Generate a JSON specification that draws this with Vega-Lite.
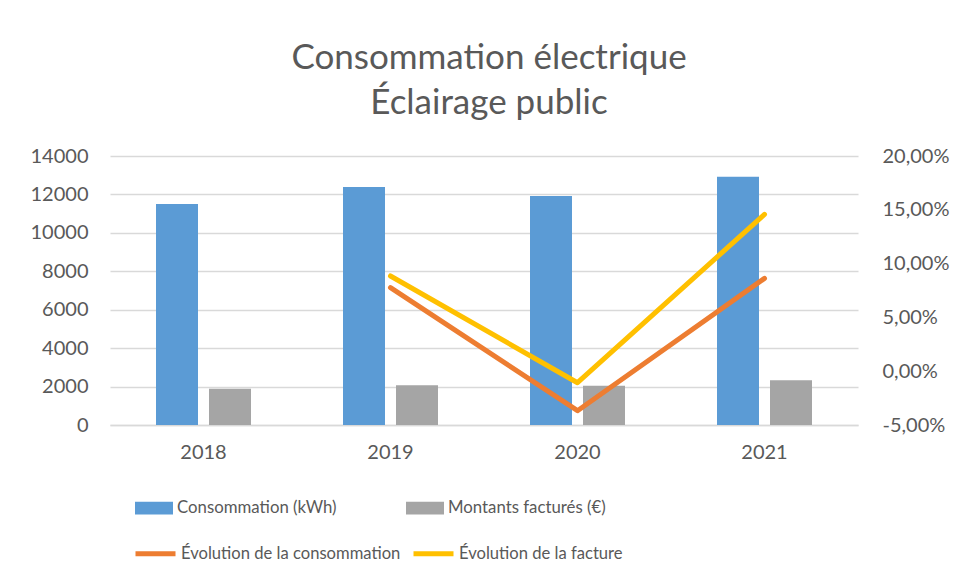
{
  "$schema": "https://vega.github.io/schema/vega-lite/v6.json",
  "width": 748,
  "height": 269,
  "autosize": {"type": "none"},
  "padding": {"left": 110, "top": 156, "right": 107, "bottom": 156},
  "background": "white",
  "title": {
    "text": ["Consommation électrique", "Éclairage public"],
    "anchor": "middle",
    "fontSize": 35,
    "font": "Lato",
    "fontWeight": "normal",
    "color": "#595959",
    "lineHeight": 45,
    "offset": 25,
    "dx": 5
  },
  "datasets": {
    "bars": [
      {"year": "2018", "serie": "Consommation (kWh)", "value": 11500},
      {"year": "2018", "serie": "Montants facturés (€)", "value": 1890},
      {"year": "2019", "serie": "Consommation (kWh)", "value": 12390},
      {"year": "2019", "serie": "Montants facturés (€)", "value": 2065},
      {"year": "2020", "serie": "Consommation (kWh)", "value": 11920},
      {"year": "2020", "serie": "Montants facturés (€)", "value": 2046},
      {"year": "2021", "serie": "Consommation (kWh)", "value": 12926},
      {"year": "2021", "serie": "Montants facturés (€)", "value": 2327}
    ],
    "lines": [
      {"year": "2019", "serie": "Évolution de la consommation", "pct": 0.0776},
      {"year": "2020", "serie": "Évolution de la consommation", "pct": -0.0367},
      {"year": "2021", "serie": "Évolution de la consommation", "pct": 0.0863},
      {"year": "2019", "serie": "Évolution de la facture", "pct": 0.0885},
      {"year": "2020", "serie": "Évolution de la facture", "pct": -0.0107},
      {"year": "2021", "serie": "Évolution de la facture", "pct": 0.1458}
    ]
  },
  "layer": [
    {
      "data": {"name": "bars"},
      "mark": {"type": "bar"},
      "encoding": {
        "x": {
          "field": "year",
          "type": "nominal",
          "sort": ["2018", "2019", "2020", "2021"],
          "scale": {"domain": ["2018", "2019", "2020", "2021"], "paddingInner": 0.492, "paddingOuter": 0.246},
          "axis": {
            "title": null,
            "labelAngle": 0,
            "labelFontSize": 20,
            "labelFont": "Lato",
            "labelColor": "#595959",
            "labelPadding": 17,
            "ticks": false,
            "domain": true,
            "domainColor": "#D9D9D9",
            "domainWidth": 1.5,
            "grid": false
          }
        },
        "xOffset": {
          "field": "serie",
          "type": "nominal",
          "scale": {"domain": ["Consommation (kWh)", "Montants facturés (€)"], "paddingInner": 0.2075}
        },
        "y": {
          "field": "value",
          "type": "quantitative",
          "scale": {"domain": [0, 14000], "nice": false},
          "axis": {
            "title": null,
            "values": [0, 2000, 4000, 6000, 8000, 10000, 12000, 14000],
            "format": "d",
            "labelFontSize": 20,
            "labelFont": "Lato",
            "labelColor": "#595959",
            "labelPadding": 22,
            "ticks": false,
            "domain": false,
            "grid": true,
            "gridColor": "#D9D9D9",
            "gridWidth": 1.5
          }
        },
        "color": {
          "field": "serie",
          "type": "nominal",
          "scale": {"domain": ["Consommation (kWh)", "Montants facturés (€)"], "range": ["#5B9BD5", "#A5A5A5"]},
          "legend": {
            "title": null,
            "orient": "none",
            "legendX": 25,
            "legendY": 333,
            "direction": "horizontal",
            "symbolType": "M-1,-0.34H1V0.34H-1Z",
            "symbolSize": 1444,
            "symbolStrokeWidth": 0,
            "labelFontSize": 16.8,
            "labelFont": "Lato",
            "labelColor": "#595959",
            "labelOffset": 4,
            "columnPadding": 69,
            "labelLimit": 400
          }
        }
      }
    },
    {
      "data": {"name": "lines"},
      "mark": {"type": "line", "strokeWidth": 5, "strokeCap": "round", "strokeJoin": "round"},
      "encoding": {
        "x": {"field": "year", "type": "nominal", "sort": ["2018", "2019", "2020", "2021"]},
        "y": {
          "field": "pct",
          "type": "quantitative",
          "scale": {"domain": [-0.05, 0.2], "nice": false},
          "axis": {
            "orient": "right",
            "title": null,
            "values": [-0.05, 0, 0.05, 0.1, 0.15, 0.2],
            "format": ".2%",
            "labelFontSize": 20,
            "labelFont": "Lato",
            "labelColor": "#595959",
            "labelPadding": 24,
            "ticks": false,
            "domain": false,
            "grid": false
          }
        },
        "stroke": {
          "field": "serie",
          "type": "nominal",
          "scale": {"domain": ["Évolution de la consommation", "Évolution de la facture"], "range": ["#ED7D31", "#FFC000"]},
          "legend": {
            "title": null,
            "orient": "none",
            "legendX": 23,
            "legendY": 375,
            "direction": "horizontal",
            "symbolType": "stroke",
            "symbolSize": 1600,
            "symbolStrokeWidth": 5,
            "labelFontSize": 16.6,
            "labelFont": "Lato",
            "labelColor": "#595959",
            "labelOffset": 3,
            "columnPadding": 2,
            "labelLimit": 400
          }
        }
      }
    }
  ],
  "resolve": {"scale": {"y": "independent", "color": "independent"}},
  "config": {
    "view": {"stroke": null},
    "locale": {
      "number": {"decimal": ",", "thousands": "\u00a0", "grouping": [3], "currency": ["", "\u00a0€"], "minus": "-"}
    }
  }
}
